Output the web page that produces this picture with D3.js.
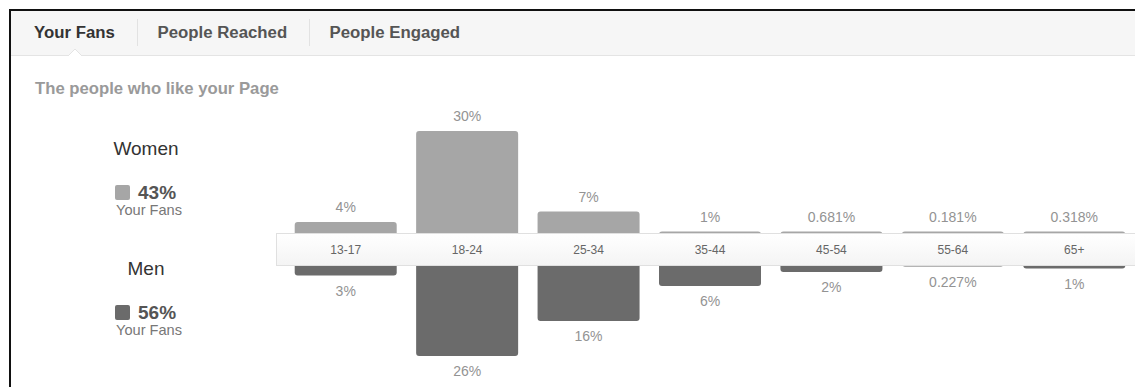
<!DOCTYPE html>
<html>
<head>
<meta charset="utf-8">
<script src="https://cdnjs.cloudflare.com/ajax/libs/d3/7.8.5/d3.min.js"></script>
<style>
    html, body { margin: 0; padding: 0; background: #fff; }
    svg { display: block; font-family: 'Liberation Sans', Arial, sans-serif; }
    .tab { font-size: 16.8px; font-weight: bold; fill: #555; }
    .tab.active { fill: #333; }
    .subtitle { font-size: 16.7px; font-weight: bold; fill: #9a9a9a; }
    .val { font-size: 14px; fill: #939393; text-anchor: middle; }
    .age { font-size: 12px; fill: #666; text-anchor: middle; }
    .gender { font-size: 19px; fill: #333; text-anchor: middle; }
    .share { font-size: 19px; font-weight: bold; fill: #555; }
    .fans { font-size: 14.6px; fill: #777; }
</style>
</head>
<body>
<div id="chart"></div>
<script>
// data
var tabs = ["Your Fans", "People Reached", "People Engaged"];
var ageGroups = ["13-17", "18-24", "25-34", "35-44", "45-54", "55-64", "65+"];
var women = [4, 30, 7, 1, 0.681, 0.181, 0.318];
var men = [3, 26, 16, 6, 2, 0.227, 1];
var genders = ["Women", "Men"];
var genderShare = [43, 56];

var W = 1135, H = 387;
var colWomen = "#a6a6a6", colMen = "#6b6b6b";

var svg = d3.select("#chart").append("svg")
    .attr("width", W).attr("height", H);

var defs = svg.append("defs");
var grad = defs.append("linearGradient").attr("id", "strip")
    .attr("x1", 0).attr("x2", 0).attr("y1", 0).attr("y2", 1);
grad.append("stop").attr("offset", "0%").attr("stop-color", "#ffffff");
grad.append("stop").attr("offset", "100%").attr("stop-color", "#f4f4f4");

// frame + tab bar
svg.append("rect").attr("x", 11).attr("y", 11).attr("width", W - 11).attr("height", 44)
    .attr("fill", "#f6f6f6");
svg.append("line").attr("x1", 11).attr("x2", W).attr("y1", 55.5).attr("y2", 55.5)
    .attr("stroke", "#e4e4e4");
svg.append("path").attr("d", "M68,56 L75,49 L82,56")
    .attr("fill", "#fff").attr("stroke", "#e4e4e4");
svg.append("rect").attr("x", 9).attr("y", 9).attr("width", W - 9).attr("height", 2).attr("fill", "#111");
svg.append("rect").attr("x", 9).attr("y", 9).attr("width", 2).attr("height", H - 9).attr("fill", "#111");

var tx = 34;
tabs.forEach(function(t, i) {
    var el = svg.append("text").attr("class", "tab" + (i === 0 ? " active" : ""))
        .attr("x", tx).attr("y", 38).text(t);
    var w = el.node().getComputedTextLength();
    if (i < tabs.length - 1) {
        var sx = Math.round(tx + w + 22) + 0.5;
        svg.append("line").attr("x1", sx).attr("x2", sx).attr("y1", 19).attr("y2", 46)
            .attr("stroke", "#e2e2e2");
        tx = sx + 20;
    }
});

svg.append("text").attr("class", "subtitle").attr("x", 35).attr("y", 94)
    .text("The people who like your Page");

// legend
var legY = [148, 268];
genders.forEach(function(g, i) {
    var y0 = legY[i];
    svg.append("text").attr("class", "gender").attr("x", 146).attr("y", y0 + 7).text(g);
    svg.append("rect").attr("x", 115).attr("y", y0 + 37).attr("width", 15).attr("height", 15)
        .attr("rx", 2).attr("fill", i === 0 ? colWomen : colMen);
    svg.append("text").attr("class", "share").attr("x", 138).attr("y", y0 + 51)
        .text(genderShare[i] + "%");
    svg.append("text").attr("class", "fans").attr("x", 116).attr("y", y0 + 67).text("Your Fans");
});

// bars
var x = d3.scaleBand().domain(ageGroups).range([285, 1135])
    .paddingInner(0.16).paddingOuter(0.08);
var h = d3.scaleLinear().domain([0, 30]).range([0, 105]);
var baseW = 236, baseM = 265, stripTop = 233, stripBot = 265;

var rows = ageGroups.map(function(a, i) {
    return {age: a, w: women[i], m: men[i]};
});

function topW(d) { return Math.min(baseW - h(d.w), stripTop - 1.5); }
function botM(d) { return Math.max(baseM + h(d.m), stripBot + 1.5); }

var g = svg.append("g");
g.selectAll("rect.w").data(rows).join("rect").attr("class", "w")
    .attr("x", function(d) { return x(d.age); })
    .attr("width", x.bandwidth())
    .attr("y", topW)
    .attr("height", function(d) { return 250 - topW(d); })
    .attr("rx", 3).attr("fill", colWomen);

g.selectAll("rect.m").data(rows).join("rect").attr("class", "m")
    .attr("x", function(d) { return x(d.age); })
    .attr("width", x.bandwidth())
    .attr("y", 250)
    .attr("height", function(d) { return botM(d) - 250; })
    .attr("rx", 3).attr("fill", colMen);

g.selectAll("text.vw").data(rows).join("text").attr("class", "val vw")
    .attr("x", function(d) { return x(d.age) + x.bandwidth() / 2; })
    .attr("y", function(d) { return topW(d) - 10; })
    .text(function(d) { return d.w + "%"; });

g.selectAll("text.vm").data(rows).join("text").attr("class", "val vm")
    .attr("x", function(d) { return x(d.age) + x.bandwidth() / 2; })
    .attr("y", function(d) { return botM(d) + 20; })
    .text(function(d) { return d.m + "%"; });

// axis strip
svg.append("rect").attr("x", 276.5).attr("y", stripTop + 0.5)
    .attr("width", W - 276).attr("height", stripBot - stripTop)
    .attr("fill", "url(#strip)").attr("stroke", "#e0e0e0");

svg.append("g").selectAll("text").data(ageGroups).join("text").attr("class", "age")
    .attr("x", function(d) { return x(d) + x.bandwidth() / 2; })
    .attr("y", 253.5)
    .text(function(d) { return d; });
</script>
</body>
</html>
